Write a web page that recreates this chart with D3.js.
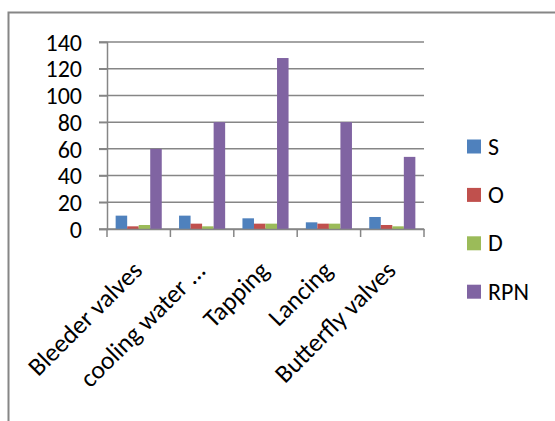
<!DOCTYPE html>
<html><head><meta charset="utf-8">
<script src="https://cdn.jsdelivr.net/npm/d3@7"></script>
<style>
html,body{margin:0;padding:0;background:#fff;}
text{font-family:Carlito,Calibri,"Liberation Sans",Arial,sans-serif;fill:#000;}
</style></head>
<body>
<svg id="c" width="555" height="421"></svg>
<script>
const categories = ["Bleeder valves","cooling water ...","Tapping","Lancing","Butterfly valves"];
const seriesNames = ["S","O","D","RPN"];
const S = [10,10,8,5,9];
const O = [2,4,4,4,3];
const D = [3,2,4,4,2];
const RPN = [60,80,128,80,54];
const yTicks = [0,20,40,60,80,100,120,140];
const colors = ["#4F81BD","#C0504D","#9BBB59","#8064A2"];

const seriesVals = [S,O,D,RPN];
const svg = d3.select("#c");
const gridColor = "#868686";
const FS = 24;

// outer chart border
svg.append("rect").attr("x",8.5).attr("y",12.5).attr("width",560).attr("height",420)
  .attr("fill","none").attr("stroke",gridColor).attr("stroke-width",2);

const pLeft=107, pRight=424, pTop=42, pBottom=229;
const x0 = d3.scaleBand().domain(categories).range([pLeft,pRight]).paddingInner(0).paddingOuter(0);
const x1 = d3.scaleBand().domain(seriesNames).range([0,x0.bandwidth()]).paddingInner(0).paddingOuter(0.75);
const y = d3.scaleLinear().domain([0,140]).range([pBottom,pTop]);

// gridlines
svg.append("g").selectAll("line").data(yTicks).join("line")
  .attr("x1",pLeft-8).attr("x2",pRight).attr("y1",d=>y(d)).attr("y2",d=>y(d))
  .attr("stroke",gridColor).attr("stroke-width",1.5);

// y axis
const yAxis = d3.axisLeft(y).tickValues(yTicks).tickSize(8).tickPadding(17);
const gy = svg.append("g").attr("transform",`translate(${pLeft},0)`).call(yAxis);
gy.select(".domain").attr("stroke",gridColor).attr("stroke-width",1.5);
gy.selectAll(".tick line").attr("stroke",gridColor).attr("stroke-width",1.5);
gy.selectAll(".tick text").attr("font-size",FS).attr("dy","0.34em")
  .style("font-family",'Carlito,Calibri,"Liberation Sans",Arial,sans-serif').attr("fill","#000");

// bars
const groups = svg.append("g").selectAll("g").data(categories).join("g")
  .attr("transform",d=>`translate(${x0(d)},0)`);
groups.selectAll("rect").data((d,i)=>seriesNames.map((s,j)=>({s,v:seriesVals[j][i],c:colors[j]}))).join("rect")
  .attr("x",d=>x1(d.s)).attr("width",x1.bandwidth())
  .attr("y",d=>y(d.v)).attr("height",d=>y(0)-y(d.v)).attr("fill",d=>d.c);

// x axis
const xAxis = d3.axisBottom(x0).tickSize(0).tickFormat("");
const gx = svg.append("g").attr("transform",`translate(0,${pBottom})`).call(xAxis);
gx.select(".domain").attr("stroke",gridColor).attr("stroke-width",1.5);
const bounds = d3.range(categories.length+1).map(i=>pLeft+i*x0.step());
svg.append("g").selectAll("line").data(bounds).join("line")
  .attr("x1",d=>d).attr("x2",d=>d).attr("y1",pBottom).attr("y2",pBottom+8)
  .attr("stroke",gridColor).attr("stroke-width",1.5);
svg.append("g").selectAll("text").data(categories).join("text")
  .attr("transform",d=>`translate(${x0(d)+x0.bandwidth()/2+5},${pBottom+43}) rotate(-45)`)
  .attr("text-anchor","end").attr("font-size",25.5).text(d=>d);

// legend
const lg = svg.append("g").selectAll("g").data(seriesNames).join("g")
  .attr("transform",(d,i)=>`translate(467,${146.5+i*48.4})`);
lg.append("rect").attr("x",0).attr("y",-7).attr("width",14).attr("height",14).attr("fill",(d,i)=>colors[i]);
lg.append("text").attr("x",21).attr("y",0).attr("dy","0.34em").attr("font-size",FS).text(d=>d);
</script>
</body></html>
